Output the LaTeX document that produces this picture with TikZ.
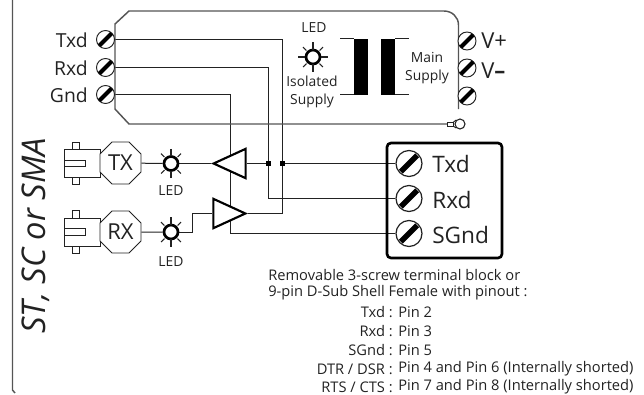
\documentclass[tikz,border=0pt]{standalone}
\usepackage{fontspec}
\setmainfont{Open Sans}
\usetikzlibrary{shapes.geometric,shapes.misc}
\usetikzlibrary{backgrounds}
\usepackage{xcolor}
\definecolor{myink}{HTML}{222222}
\definecolor{mycase}{HTML}{555555}

\tikzset{
  wire/.style={line width=0.75pt, color=myink},
  case/.style={line width=1.1pt, color=mycase},
  screw/.style={circle, draw=myink, fill=white, line width=0.7pt, inner sep=0pt, minimum size=13.5pt},
  bigscrew/.style={screw, line width=0.9pt, minimum size=19.5pt},
  slash/.style={line width=3pt, color=black, shorten >=0.6pt, shorten <=0.6pt},
  bigslash/.style={line width=4.2pt, color=black, shorten >=1.5pt, shorten <=1.5pt},
  led/.style={circle, draw=black, fill=white, line width=2pt, inner sep=0pt, minimum size=10.5pt},
  ray/.style={line width=0.8pt, color=myink},
  buffer/.style={isosceles triangle, isosceles triangle apex angle=48, draw=black, fill=white, line width=1.6pt, inner sep=0pt, minimum height=24pt, minimum width=22pt, isosceles triangle stretches},
  junction/.style={rectangle, fill=black, inner sep=0pt, minimum size=3.6pt},
  plug/.style={chamfered rectangle, chamfered rectangle sep=4.5pt, draw=myink, fill=white, line width=0.7pt, minimum width=30.75pt, minimum height=31.5pt, inner sep=0pt},
  body/.style={line width=0.7pt, color=myink},
  label/.style={text=myink, inner sep=0pt},
  small/.style={label, font=\fontsize{11}{13.5}\selectfont},
  supply/.style={label, align=center, font=\fontsize{10.4}{13.5}\selectfont},
}

\newcommand{\ledrays}[1]{
  \foreach \a in {90,270}
    \draw [ray] (#1) ++(\a:11pt) -- ++(\a:-5.5pt);
  \foreach \a in {45,135,225,315}
    \draw [ray] (#1) ++(\a:10.5pt) -- ++(\a:-3.5pt);
}

\begin{document}
\begin{tikzpicture}[x=0.75pt,y=-0.75pt]

      \useasboundingbox (0,0) rectangle (644,394);

      \pgfmathsetmacro{\txY}{163.5}
      \pgfmathsetmacro{\rxY}{232}
      \pgfmathsetmacro{\pinX}{105.5}
      \pgfmathsetmacro{\powerX}{467}
      \pgfmathsetmacro{\blockX}{409}

      % outer frame
      \draw [case] (12.5,0) -- (12.5,390) -- (15,393);

      % case
      \draw [case] (447,124) -- (129,124) -- (115,109) -- (115,24) -- (129,11) -- (444,11)
        .. controls (452,11) and (458.5,17) .. (458.5,25) -- (458.5,109);

      % screws of the case
      \node [name=p1, screw] at (\pinX,39.5) {};
      \node [name=p2, screw] at (\pinX,67.5) {};
      \node [name=p3, screw] at (\pinX,94.5) {};
      \node [name=v1, screw] at (\powerX,41) {};
      \node [name=v2, screw] at (\powerX,68) {};
      \node [name=v3, screw] at (\powerX,96) {};
      \draw [slash] (p1.south west) -- (p1.north east);
      \draw [slash] (p2.south west) -- (p2.north east);
      \draw [slash] (p3.south west) -- (p3.north east);
      \draw [slash] (v1.south west) -- (v1.north east);
      \draw [slash] (v2.south west) -- (v2.north east);
      \draw [slash] (v3.south west) -- (v3.north east);

      \node [name=l1, label, anchor=east, font=\fontsize{14.5}{16}\selectfont] at (88,40) {Txd};
      \node [name=l2, label, anchor=east, font=\fontsize{14.5}{16}\selectfont] at (88,68) {Rxd};
      \node [name=l3, label, anchor=east, font=\fontsize{14.5}{16}\selectfont] at (88,95) {Gnd};
      \node [name=l4, label, anchor=west, font=\fontsize{16.5}{18}\selectfont] at (481,41) {V+};
      \node [name=l5, label, anchor=west, font=\fontsize{16.5}{18}\selectfont] at (481,71) {V\textbf{--}};

      % isolated supply
      \node [name=iled, supply] at (314,28) {LED};
      \node [name=led0, led] at (313,57) {};
      \ledrays{led0}
      \draw [ray] (led0.west) -- ++(-5pt,0);
      \draw [ray] (led0.east) -- ++(5pt,0);
      \node [name=iso, supply] at (312,92) {Isolated\\Supply};
      \node [name=main, supply] at (427,68) {Main\\Supply};

      % transformer
      \fill [black] (353.5,38.5) rectangle (368,94.5);
      \fill [black] (381,38.5) rectangle (395,94.5);
      \draw [wire] (340,38.5) -- (353.5,38.5);
      \draw [wire] (340,94.5) -- (353.5,94.5);
      \draw [wire] (395,38.5) -- (409,38.5);
      \draw [wire] (395,94.5) -- (409,94.5);

      % ground lug
      \node [name=lug, circle, draw=myink, fill=white, line width=0.8pt, inner sep=0pt, minimum size=7.5pt] at (460,124) {};
      \draw [body, fill=white] (447,122.5) rectangle (453,126);
      \draw [body] (453,122.5) -- (lug.north west);
      \draw [body] (453,126) -- (lug.south west);

      % TX side
      \draw [body] (72,142) rectangle (79,149);
      \draw [body] (72,177) rectangle (79,184);
      \draw [body] (64.5,149) rectangle (100,177);
      \draw [body] (64.5,160) rectangle (85.5,166);
      \node [name=tx, plug, label, font=\fontsize{16.5}{18}\selectfont] at (120.5,163) {TX};
      \node [name=led1, led] at (171,\txY) {};
      \ledrays{led1}
      \node [name=led1t, supply] at (171,191) {LED};
      \node [name=b1, buffer, shape border rotate=180, anchor=apex] at (211,\txY) {};

      % RX side
      \draw [body] (72,210) rectangle (79,218);
      \draw [body] (72,246) rectangle (79,253);
      \draw [body] (64.5,218) rectangle (100,246);
      \draw [body] (64.5,228) rectangle (85.5,235);
      \node [name=rx, plug, label, font=\fontsize{16.5}{18}\selectfont] at (120.5,\rxY) {RX};
      \node [name=led2, led] at (171,\rxY) {};
      \ledrays{led2}
      \node [name=led2t, supply] at (171,262) {LED};
      \node [name=b2, buffer, anchor=apex] at (248,213.5) {};

      % terminal block
      \draw [line width=2pt, color=black, rounded corners=3pt] (387,143) rectangle (502,258);
      \node [name=t1, bigscrew] at (\blockX,163.5) {};
      \node [name=t2, bigscrew] at (\blockX,198.5) {};
      \node [name=t3, bigscrew] at (\blockX,233.5) {};
      \draw [bigslash] (t1.south west) -- (t1.north east);
      \draw [bigslash] (t2.south west) -- (t2.north east);
      \draw [bigslash] (t3.south west) -- (t3.north east);
      \node [name=tt1, label, anchor=west, font=\fontsize{17}{18}\selectfont] at (432,164) {Txd};
      \node [name=tt2, label, anchor=west, font=\fontsize{17}{18}\selectfont] at (432,200) {Rxd};
      \node [name=tt3, label, anchor=west, font=\fontsize{17}{18}\selectfont] at (432,235) {SGnd};

      % junctions
      \node [name=d1, junction] at (268.5,\txY) {};
      \node [name=d2, junction] at (282.5,\txY) {};
      \coordinate (g1) at (230.5,\rxY);

      % wires
      \begin{scope}[on background layer]
        \draw [wire] (p1) -| (d2);
        \draw [wire] (d2) |- (b2.apex);
        \draw [wire] (p2) -| (d1);
        \draw [wire] (d1) |- (t2);
        \draw [wire] (p3) -| (g1);
        \draw [wire] (g1) |- (t3);
        \draw [wire] (b1.lower side) -- (d1);
        \draw [wire] (d2) -- (t1);
        \draw [wire] (tx) -- (led1);
        \draw [wire] (led1) -- (b1.apex);
        \draw [wire] (rx) -- (led2);
        \draw [wire] (led2) -| (192,213.5) -- (b2.lower side);
      \end{scope}

      % connector family
      \node [name=fam, label, rotate=90, font=\fontsize{24.5}{27}\selectfont\itshape] at (36,236) {ST, SC or SMA};

      % pinout
      \node [name=n1, small, anchor=west] at (268,275) {Removable 3-screw terminal block or};
      \node [name=n2, small, anchor=west] at (268,293) {9-pin D-Sub Shell Female with pinout :};
      \node [name=k1, small, anchor=east] at (393,312) {Txd :};
      \node [name=k2, small, anchor=east] at (393,331) {Rxd :};
      \node [name=k3, small, anchor=east] at (393,350) {SGnd :};
      \node [name=k4, small, anchor=east] at (393,369) {DTR / DSR :};
      \node [name=k5, small, anchor=east] at (393,387) {RTS / CTS :};
      \node [name=m1, small, anchor=west] at (398,312) {Pin 2};
      \node [name=m2, small, anchor=west] at (398,331) {Pin 3};
      \node [name=m3, small, anchor=west] at (398,350) {Pin 5};
      \node [name=m4, small, anchor=west] at (398,369) {Pin 4 and Pin 6 (Internally shorted)};
      \node [name=m5, small, anchor=west] at (398,387) {Pin 7 and Pin 8 (Internally shorted)};

    \end{tikzpicture}
\end{document}
